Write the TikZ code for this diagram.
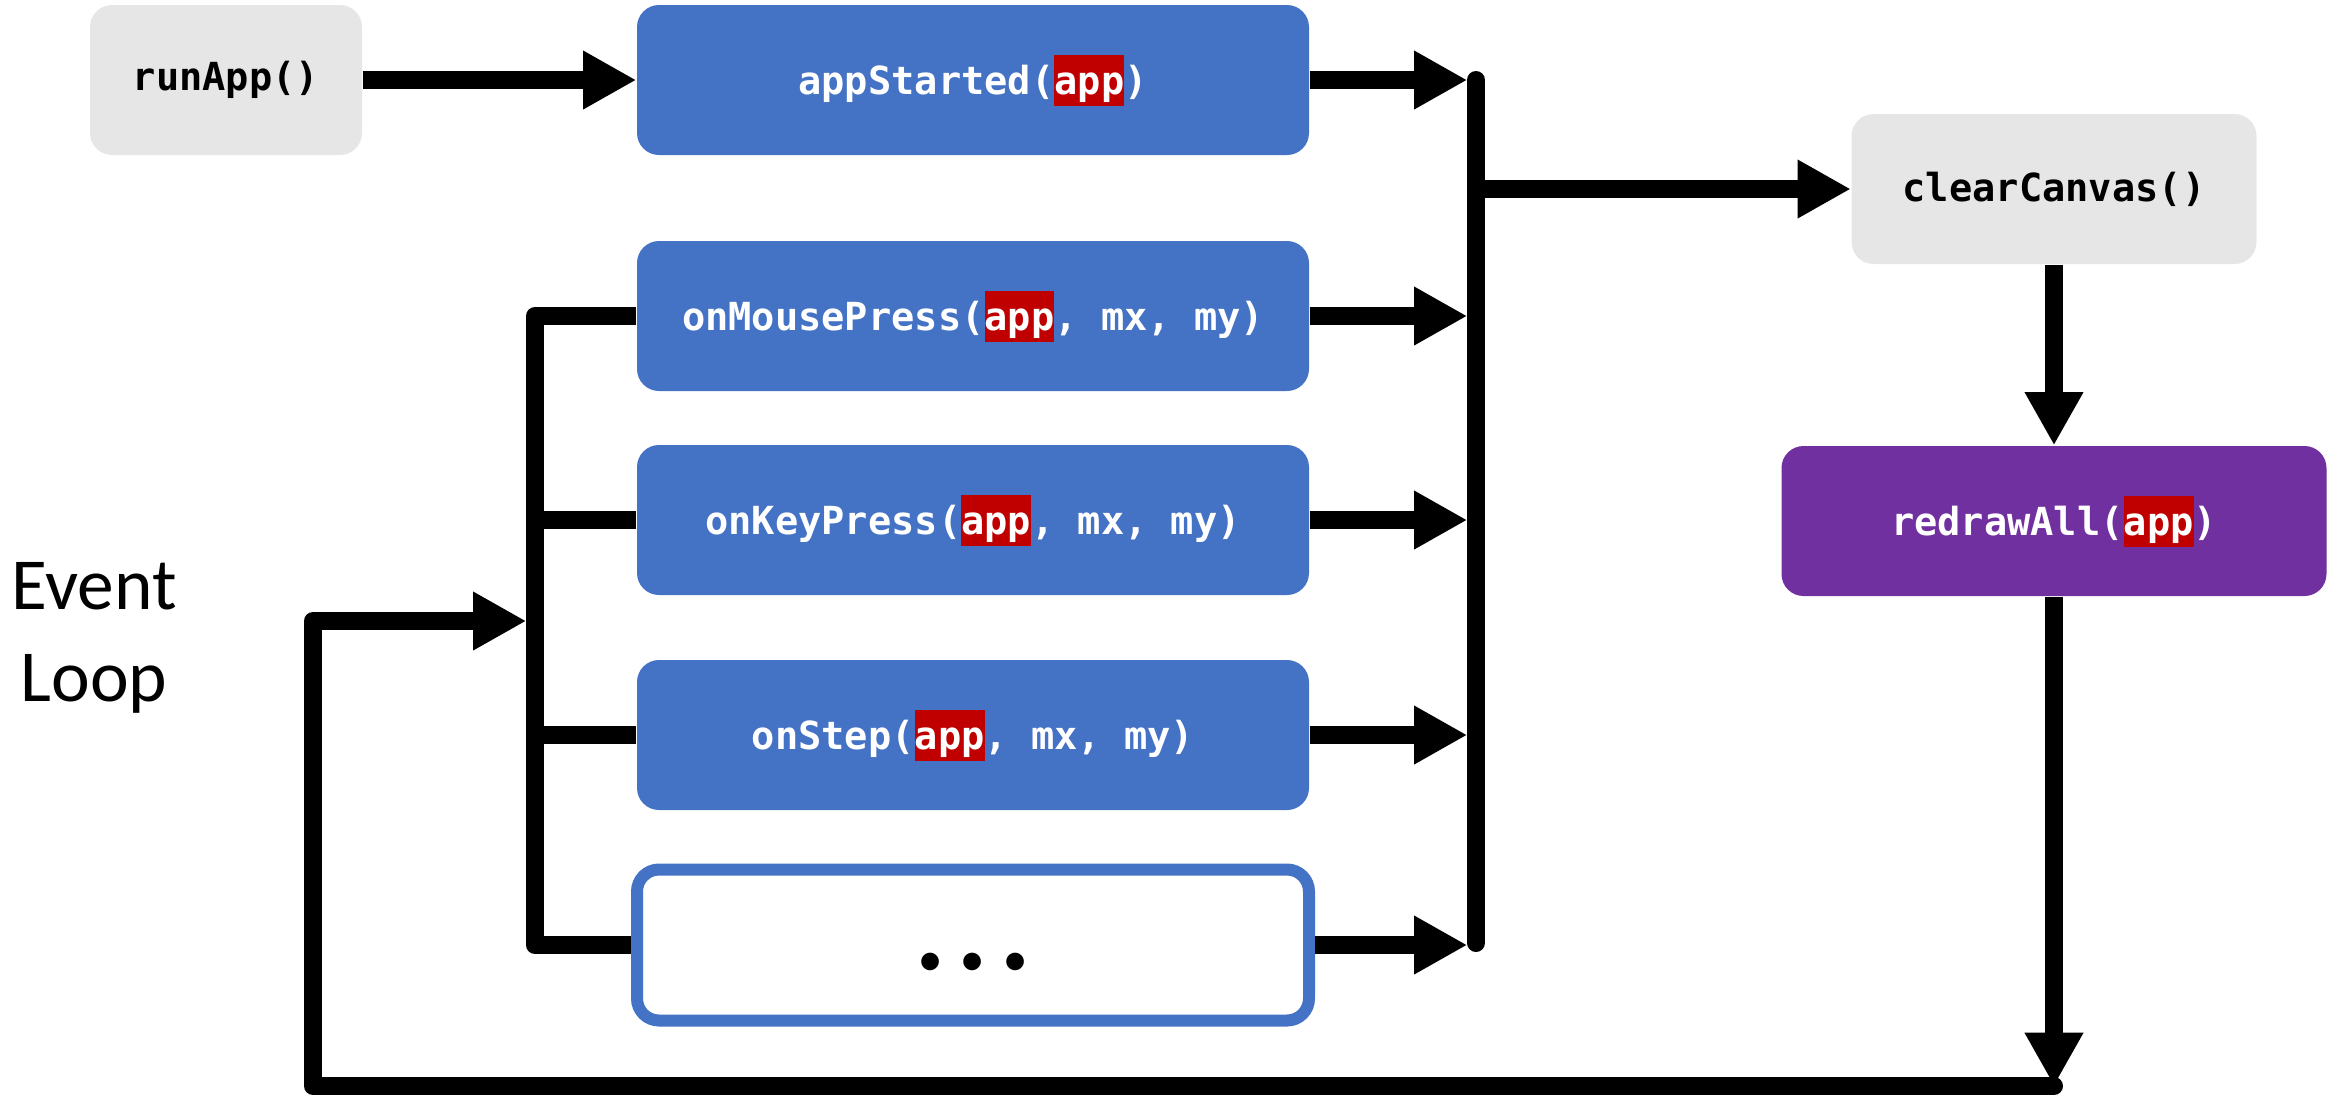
\documentclass[tikz,border=0pt]{standalone}
\usepackage{fontspec}
\setmonofont{DejaVu Sans Mono}
\newfontfamily\loopfont{Carlito}
\usetikzlibrary{arrows.meta}

\definecolor{boxgray}{HTML}{E7E6E6}
\definecolor{boxblue}{HTML}{4472C4}
\definecolor{boxpurple}{HTML}{7030A0}
\definecolor{argred}{HTML}{C00000}

% red mark behind the app argument
\newcommand{\argbox}[1]{{\setlength{\fboxsep}{0pt}\colorbox{argred}{\rule[-3.3pt]{0pt}{15.3pt}#1}}}

\begin{document}
\begin{tikzpicture}[x=0.3pt, y=-0.3pt,
    fnbox/.style={rounded corners=6.6pt, minimum height=45pt, inner sep=0pt,
        font=\ttfamily\bfseries\fontsize{11.6}{14}\selectfont},
    graybox/.style={fnbox, fill=boxgray, text=black},
    eventbox/.style={fnbox, fill=boxblue, text=white, minimum width=201.6pt},
    drawbox/.style={fnbox, fill=boxpurple, text=white},
    wire/.style={line width=5.4pt, line join=round},
    wirearrow/.style={wire, -{Triangle[length=16pt, width=16.5pt]}}]
    \useasboundingbox (0,0) rectangle (2338,1095);

    % runApp and the start handler
    \node[graybox, minimum width=81.6pt] (run) at (226,80) {runApp()};
    \node[eventbox] (start) at (973,80) {appStarted(\argbox{app})};
    \draw[wirearrow] (run) -- (start);

    % event handlers
    \node[eventbox] (mouse) at (973,316) {onMousePress(\argbox{app}, mx, my)};
    \node[eventbox] (key) at (973,520) {onKeyPress(\argbox{app}, mx, my)};
    \node[eventbox] (step) at (973,735) {onStep(\argbox{app}, mx, my)};
    \node[fnbox, draw=boxblue, line width=3.6pt, fill=white, minimum width=201.6pt,
        minimum height=45.3pt, font=\ttfamily\bfseries\fontsize{15}{18}\selectfont]
        (more) at (973,945) {\smash{\raisebox{-10.6pt}{•\hspace{3.6pt}•\hspace{3.6pt}•}}};

    % handlers feed the bus on the right
    \coordinate (busT) at (1476,80);
    \coordinate (busB) at (1476,943);
    \draw[wire, line cap=round] (busT) -- (busB);
    \foreach \h in {start, mouse, key, step, more}
        \draw[wirearrow, shorten >=2.6pt] (\h.east) -- (\h.east -| busT);

    % clearCanvas then redrawAll
    \node[graybox, minimum width=121.5pt] (clear) at (2054,189) {clearCanvas()};
    \node[drawbox, minimum width=163.5pt] (redraw) at (2054,521) {redrawAll(\argbox{app})};
    \draw[wirearrow] (clear.west -| busT) -- (clear.west);
    \draw[wirearrow] (clear) -- (redraw);

    % back round the loop
    \coordinate (loopR) at (2054,1086);
    \coordinate (loopL) at (313,1086);
    \coordinate (inT) at (535,316);
    \coordinate (inB) at (535,945);
    \coordinate (loopIn) at (535,621);
    \draw[wirearrow] (redraw.south) -- (loopR);
    \draw[wirearrow, line cap=round, shorten >=2.6pt] (loopR) -- (loopL) |- (loopIn);

    % bus on the left into the handlers
    \draw[wire] (mouse.west) -- (inT) -- (inB) -- (more.west);
    \draw[wire] (key.west) -- (key.west -| inT);
    \draw[wire] (step.west) -- (step.west -| inT);

    \node[font=\loopfont\fontsize{22}{27.6}\selectfont, align=center] (evloop) at (94,638) {Event\\Loop};
\end{tikzpicture}
\end{document}
